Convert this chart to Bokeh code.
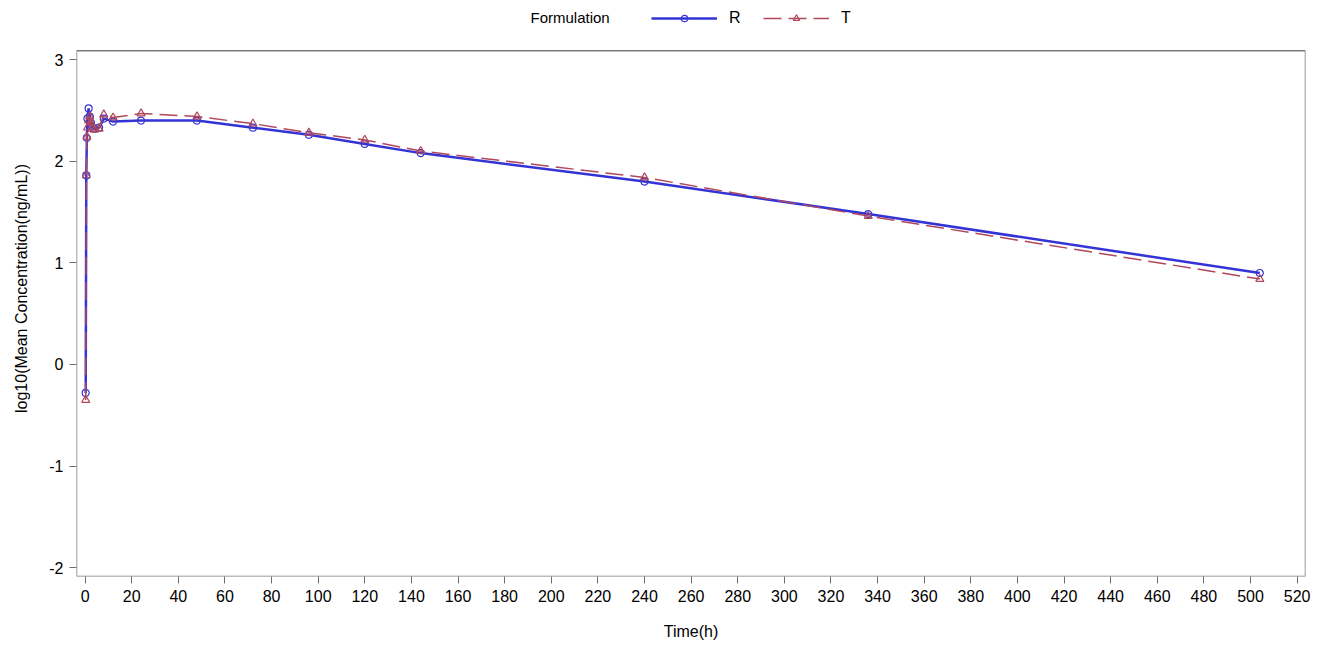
from bokeh.plotting import figure
from bokeh.models import Range1d, Legend, LegendItem, Label, FixedTicker, BoxAnnotation
from bokeh.embed import file_html
from bokeh.resources import INLINE

# ---- data ----
time_h = [0.25, 0.5, 0.75, 1, 1.5, 2, 2.5, 3, 4, 6, 8, 12, 24, 48, 72, 96, 120, 144, 240, 336, 504]
r_log = [-0.28, 1.86, 2.23, 2.42, 2.52, 2.44, 2.38, 2.34, 2.32, 2.33, 2.42, 2.39, 2.40, 2.40, 2.33, 2.26, 2.17, 2.08, 1.80, 1.48, 0.90]
t_log = [-0.35, 1.86, 2.24, 2.33, 2.40, 2.44, 2.38, 2.32, 2.31, 2.32, 2.46, 2.43, 2.47, 2.44, 2.37, 2.28, 2.21, 2.10, 1.84, 1.46, 0.84]
x_ticks = list(range(0, 521, 20))
y_ticks = [-2, -1, 0, 1, 2, 3]

FONT = "Liberation Sans"
BLUE = "#3434D6"
RED = "#B0475A"

X0, X1 = -3.7, 523.6
Y0, Y1 = -2.087, 3.087     # visible data box
Y_TOP = 3.582              # extra room above the box for the legend

p = figure(width=1313, height=642, output_backend="svg", toolbar_location=None,
           x_range=Range1d(X0, X1), y_range=Range1d(Y0, Y_TOP),
           min_border_left=76, min_border_right=8, min_border_top=0, min_border_bottom=57)

r_line = p.line(time_h, r_log, line_color=BLUE, line_width=2.5)
r_pts = p.scatter(time_h, r_log, marker="circle", size=7, fill_color=None, line_color=BLUE, line_width=1.2)
t_line = p.line(time_h, t_log, line_color=RED, line_width=1.5, line_dash="18 7")
t_pts = p.scatter(time_h, t_log, marker="triangle", size=8, fill_color=None, line_color=RED, line_width=1.2)

p.xgrid.visible = False
p.ygrid.visible = False
p.outline_line_color = None
p.add_layout(BoxAnnotation(left=X0, right=X1, bottom=Y0, top=Y1, fill_color=None, fill_alpha=0,
                           line_color="#7a7a7a", line_alpha=1.0, line_width=1.5))

for ax in (p.xaxis[0], p.yaxis[0]):
    ax.axis_line_color = None
    ax.major_tick_line_color = "#6e6e6e"
    ax.major_tick_out = 7
    ax.major_tick_in = 0
    ax.minor_tick_line_color = None
    ax.major_label_text_font = FONT
    ax.major_label_text_font_size = "16px"
    ax.major_label_text_color = "black"
    ax.axis_label_text_font = FONT
    ax.axis_label_text_font_size = "16px"
    ax.axis_label_text_font_style = "normal"
    ax.axis_label_text_color = "black"

p.xaxis.ticker = FixedTicker(ticks=x_ticks)
p.yaxis.ticker = FixedTicker(ticks=y_ticks)
p.yaxis.major_label_overrides = {t: str(t) for t in y_ticks}
p.xaxis.axis_label = "Time(h)"
p.yaxis.axis_label = "log10(Mean Concentration(ng/mL))"
p.xaxis.major_label_standoff = 6
p.xaxis.axis_label_standoff = 18
p.yaxis.major_label_standoff = 6
p.yaxis.axis_label_standoff = 16

legend = Legend(items=[LegendItem(label="R", renderers=[r_line, r_pts]),
                       LegendItem(label="T", renderers=[t_line, t_pts])],
                orientation="horizontal", location=(575, 549),
                glyph_width=66, glyph_height=16, label_standoff=12, spacing=14,
                padding=2, margin=0, border_line_color=None, background_fill_alpha=0,
                label_text_font=FONT, label_text_font_size="16px", label_text_color="black")
p.add_layout(legend)

p.add_layout(Label(x=454, y=559, x_units="screen", y_units="screen", text="Formulation",
                   text_font=FONT, text_font_size="15px", text_baseline="middle",
                   text_color="black"))

open("out.html", "w").write(file_html(p, INLINE))
